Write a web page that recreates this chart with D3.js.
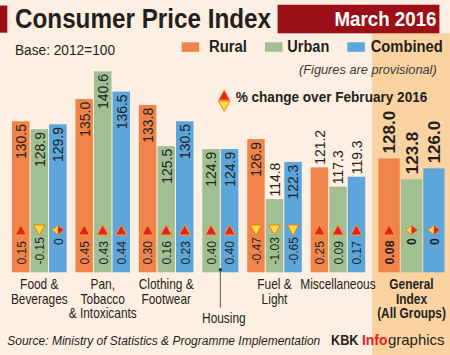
<!DOCTYPE html>
<html><head><meta charset="utf-8">
<script src="https://cdn.jsdelivr.net/npm/d3@7"></script>
<style>html,body{margin:0;padding:0;background:#FDEFE1;} svg{display:block;}</style>
</head><body><svg id="c" width="450" height="355"></svg>
<script>
// ---------- data ----------
const categories = ["Food & Beverages","Pan, Tobacco & Intoxicants","Clothing & Footwear","Housing","Fuel & Light","Miscellaneous","General Index (All Groups)"];
const categoryLines = [["Food &","Beverages"],["Pan,","Tobacco","& Intoxicants"],["Clothing &","Footwear"],["Housing"],["Fuel &","Light"],["Miscellaneous"],["General","Index","(All Groups)"]];
const series = ["Rural","Urban","Combined"];
const rural    = [130.5, 135.0, 133.8, null, 126.9, 121.2, 128.0];
const urban    = [128.9, 140.6, 125.5, 124.9, 114.8, 117.3, 123.8];
const combined = [129.9, 136.5, 130.5, 124.9, 122.3, 119.3, 126.0];
const ruralChange    = [0.15, 0.45, 0.30, null, -0.47, 0.25, 0.08];
const urbanChange    = [-0.15, 0.43, 0.16, 0.40, -1.03, 0.09, 0];
const combinedChange = [0, 0.44, 0.23, 0.40, -0.65, 0.17, 0];
const titleText = "Consumer Price Index";
const periodText = "March 2016";
const baseText = "Base: 2012=100";
const noteText = "(Figures are provisional)";
const changeText = "% change over February 2016";
const sourceText = "Source: Ministry of Statistics & Programme Implementation";
const creditParts = ["KBK", "Info", "graphics"];

// ---------- setup ----------
const W = 450, H = 355;
const FONT = "'Liberation Sans', Arial, Helvetica, sans-serif";
const C = {bg:"#FDEFE1", panel:"#FBD3A1", red:"#9B1016", ink:"#231F20",
  Rural:"#F1844B", Urban:"#A0C093", Combined:"#5CA6DC",
  tri:"#E5202A", triEdge:"#F7A51F", yel:"#FFE03A", yelEdge:"#F07A22"};
const values = {Rural:rural, Urban:urban, Combined:combined};
const changes = {Rural:ruralChange, Urban:urbanChange, Combined:combinedChange};

const svg = d3.select("#c");
svg.append("rect").attr("width",W).attr("height",H).attr("fill",C.bg);
svg.append("rect").attr("x",372).attr("y",33.3).attr("width",W-372).attr("height",H-33.3).attr("fill",C.panel);

// ---------- header ----------
svg.append("rect").attr("x",0).attr("y",5.5).attr("width",7.3).attr("height",27.2).attr("fill",C.red);
svg.append("text").attr("x",15).attr("y",27.6).attr("font-family",FONT).attr("font-weight","bold")
  .attr("font-size",28).attr("fill",C.ink).attr("textLength",256).attr("lengthAdjust","spacingAndGlyphs").text(titleText);
svg.append("rect").attr("x",277.6).attr("y",4.7).attr("width",161.8).attr("height",28.6).attr("fill",C.red);
svg.append("text").attr("x",334.5).attr("y",26.2).attr("font-family",FONT).attr("font-weight","bold")
  .attr("font-size",21).attr("fill","#fff").attr("textLength",102).attr("lengthAdjust","spacingAndGlyphs").text(periodText);

svg.append("text").attr("x",15).attr("y",55).attr("font-family",FONT).attr("font-size",14)
  .attr("fill",C.ink).attr("textLength",100).attr("lengthAdjust","spacingAndGlyphs").text(baseText);

// legend
const legendPos = [{sx:181.7, tx:209, tw:38},{sx:265, tx:287.3, tw:42},{sx:347.3, tx:370.7, tw:72}];
const lg = svg.append("g").selectAll("g").data(series).join("g");
lg.append("rect").attr("x",(d,i)=>legendPos[i].sx).attr("y",42.3).attr("width",17.5).attr("height",9.5).attr("fill",d=>C[d]);
lg.append("text").attr("x",(d,i)=>legendPos[i].tx).attr("y",52.4).attr("font-family",FONT).attr("font-weight","bold")
  .attr("font-size",16).attr("fill",C.ink).attr("textLength",(d,i)=>legendPos[i].tw).attr("lengthAdjust","spacingAndGlyphs").text(d=>d);

svg.append("text").attr("x",299).attr("y",74.3).attr("font-family",FONT).attr("font-style","italic").attr("font-size",13)
  .attr("fill","#3a3a3a").attr("textLength",137.7).attr("lengthAdjust","spacingAndGlyphs").text(noteText);

// icons
function upTri(g, cx, cy){ g.append("path").attr("d",`M${cx-5.7},${cy+5}L${cx+5.7},${cy+5}L${cx},${cy-5.2}Z`)
  .attr("fill",C.tri).attr("stroke",C.triEdge).attr("stroke-width",1).attr("stroke-linejoin","round"); }
function downTri(g, cx, cy){ g.append("path").attr("d",`M${cx-5.7},${cy-5}L${cx+5.7},${cy-5}L${cx},${cy+5.2}Z`)
  .attr("fill",C.yel).attr("stroke",C.yelEdge).attr("stroke-width",1).attr("stroke-linejoin","round"); }
function zeroIcon(g, cx, cy){
  g.append("path").attr("d",`M${cx},${cy-4.5}L${cx-6},${cy}L${cx},${cy+4.5}Z`).attr("fill",C.yel);
  g.append("path").attr("d",`M${cx},${cy-4.5}L${cx+6},${cy}L${cx},${cy+4.5}Z`).attr("fill",C.tri);
  g.append("path").attr("d",`M${cx},${cy-4.5}L${cx-6},${cy}L${cx},${cy+4.5}L${cx+6},${cy}Z`).attr("fill","none")
   .attr("stroke",C.yelEdge).attr("stroke-width",0.8);
}
const legIcon = svg.append("g");
upTri(legIcon, 224.2, 95.2);
downTri(legIcon, 224.2, 106.2);
svg.append("text").attr("x",235.7).attr("y",101.6).attr("font-family",FONT).attr("font-weight","bold").attr("font-size",14)
  .attr("fill",C.ink).attr("textLength",191.6).attr("lengthAdjust","spacingAndGlyphs").text(changeText);

// ---------- scales ----------
const y = d3.scaleLinear().domain([100, 140.6]).range([272.3, 71.3]);
const yGen = d3.scaleLinear().domain([105, 145.6]).range([272.3, 71.3]);
const unit = d3.scaleLinear().domain([0, 1]).range([12, 12 + 18.55]);
const GROUP_GAP = 0.42, BAR_W = 17.5;
const xGen = d3.scaleBand().domain(series).range([378.5, 444.5]).paddingInner(0.05);
const INSIDE_LIMIT = 164; // bars whose top lies below this get their value label above the bar

// build bar list
const bars = [];
let u = 0;
const groupCenters = [];
categories.forEach((cat, gi) => {
  const present = series.filter(s => values[s][gi] != null);
  if (gi < 6) {
    const start = unit(u);
    present.forEach((s, k) => {
      bars.push({gi, s, v: values[s][gi], c: changes[s][gi], x: unit(u + k), w: BAR_W, y: y, gen:false});
    });
    const end = unit(u + present.length - 1) + BAR_W;
    groupCenters.push((start + end) / 2);
    u += present.length + GROUP_GAP;
  } else {
    present.forEach(s => bars.push({gi, s, v: values[s][gi], c: changes[s][gi], x: xGen(s), w: xGen.bandwidth(), y: yGen, gen:true}));
    groupCenters.push((xGen.range()[0] + xGen.range()[1]) / 2);
  }
});

const barG = svg.append("g").selectAll("g").data(bars).join("g");
barG.append("rect").attr("x",d=>d.x).attr("y",d=>d.y(d.v)).attr("width",d=>d.w)
  .attr("height",d=>d.y.range()[0]-d.y(d.v)).attr("fill",d=>C[d.s]);

// value labels, icons, change labels
barG.each(function(d){
  const g = d3.select(this);
  const cx = d.x + d.w/2;
  const top = d.y(d.v);
  if (!d.gen) {
    const inside = top <= INSIDE_LIMIT;
    g.append("g").attr("transform",`translate(${cx+5.4},${inside ? top+2.8 : top-2.5}) rotate(-90) scale(0.93,1)`)
     .append("text").attr("text-anchor",inside ? "end" : "start").attr("font-family",FONT).attr("font-size",15).attr("fill",C.ink)
     .text(d.v.toFixed(1));
  } else {
    g.append("g").attr("transform",`translate(${cx+6.1},${top-5}) rotate(-90)`)
     .append("text").attr("text-anchor","start").attr("font-family",FONT).attr("font-weight","bold").attr("font-size",17).attr("fill",C.ink)
     .text(d.v.toFixed(1));
  }
  const iconY = 230;
  if (d.c > 0) upTri(g, cx, iconY); else if (d.c < 0) downTri(g, cx, iconY); else zeroIcon(g, cx, iconY);
  const label = d.c === 0 ? "0" : d.c.toFixed(2);
  const startY = d.c === 0 ? 245 : 264.5;
  g.append("g").attr("transform",`translate(${cx+4.8},${startY}) rotate(-90) scale(${d.gen?0.95:0.93},1)`)
   .append("text").attr("text-anchor","start").attr("font-family",FONT).attr("font-size",13)
   .attr("font-weight",d.gen?"bold":"normal").attr("fill",C.ink).text(label);
});

// housing pointer
const hBars = bars.filter(b => b.gi === 3);
const hx = (hBars[0].x + hBars[0].w + hBars[1].x) / 2;
svg.append("line").attr("x1",hx).attr("x2",hx).attr("y1",269.8).attr("y2",307.5).attr("stroke","#555").attr("stroke-width",1);
svg.append("circle").attr("cx",hx).attr("cy",269.8).attr("r",1.7).attr("fill","#333");

// category labels
const lineY = [289, 303.5, 318];
categoryLines.forEach((lines, gi) => {
  const cx = groupCenters[gi] + (gi === 3 ? 3.5 : 0);
  const isGen = gi === 6;
  lines.forEach((ln, li) => {
    const yy = gi === 3 ? 322.5 : lineY[li];
    svg.append("g").attr("transform",`translate(${cx},${yy}) scale(0.85,1)`)
      .append("text").attr("text-anchor","middle").attr("font-family",FONT).attr("font-size",14)
      .attr("font-weight",isGen?"bold":"normal").attr("fill",C.ink).text(ln);
  });
});

// footer
svg.append("text").attr("x",7.3).attr("y",344.5).attr("font-family",FONT).attr("font-style","italic").attr("font-size",12)
  .attr("fill",C.ink).attr("textLength",313).attr("lengthAdjust","spacingAndGlyphs").text(sourceText);
const creditLayout = [{x:331, w:27.5, bold:true, fill:C.ink},{x:362, w:25.5, bold:true, fill:"#E3201B"},{x:388, w:56.5, bold:false, fill:C.ink}];
svg.append("g").selectAll("text").data(creditParts).join("text")
  .attr("x",(d,i)=>creditLayout[i].x).attr("y",345).attr("font-family",FONT).attr("font-size",15)
  .attr("font-weight",(d,i)=>creditLayout[i].bold?"bold":"normal").attr("fill",(d,i)=>creditLayout[i].fill)
  .attr("textLength",(d,i)=>creditLayout[i].w).attr("lengthAdjust","spacingAndGlyphs").text(d=>d);
</script>
</body></html>
